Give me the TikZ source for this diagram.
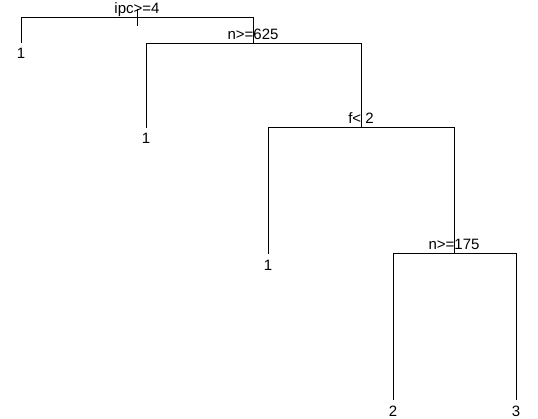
\documentclass[tikz,border=0pt]{standalone}
\usepackage{fontspec}
\setmainfont{Liberation Sans}
\begin{document}
\begin{tikzpicture}[x=1pt,y=-1pt,
  every node/.style={font=\fontsize{15}{18}\selectfont, inner sep=0pt},
  splitlabel/.style={anchor=base},
  leaflabel/.style={anchor=base},
  edge/.style={line width=0.8pt, black}]
\useasboundingbox (0,0) rectangle (538,418);
% split nodes
\coordinate (r) at (137,17);
\coordinate (n2) at (253,43);
\coordinate (n3) at (361,127);
\coordinate (n4) at (454,253);
% leaves (line ends)
\coordinate (la) at (21,43);
\coordinate (lb) at (146,128);
\coordinate (lc) at (268,254);
\coordinate (ld) at (393,400);
\coordinate (le) at (516,400);
% root stub
\coordinate (rtop) at (137,9);
\coordinate (rbot) at (137,26);
\draw[edge] (rtop) -- (rbot);
% branches
\draw[edge] (la) -- (la |- r) -- (n2 |- r) -- (n2);
\draw[edge] (lb) -- (lb |- n2) -- (n3 |- n2) -- (n3);
\draw[edge] (lc) -- (lc |- n3) -- (n4 |- n3) -- (n4);
\draw[edge] (ld) -- (ld |- n4) -- (le |- n4) -- (le);
% split labels
\node[splitlabel] (tr) at (137,13) {ipc>=4};
\node[splitlabel] (t2) at (253,39) {n>=625};
\node[splitlabel] (t3) at (361,123) {f< 2};
\node[splitlabel] (t4) at (454,249) {n>=175};
% leaf labels
\node[leaflabel] (ta) at (21,58) {1};
\node[leaflabel] (tb) at (146,143) {1};
\node[leaflabel] (tc) at (268,270) {1};
\node[leaflabel] (td) at (393,416) {2};
\node[leaflabel] (te) at (516,416) {3};
\end{tikzpicture}
\end{document}
